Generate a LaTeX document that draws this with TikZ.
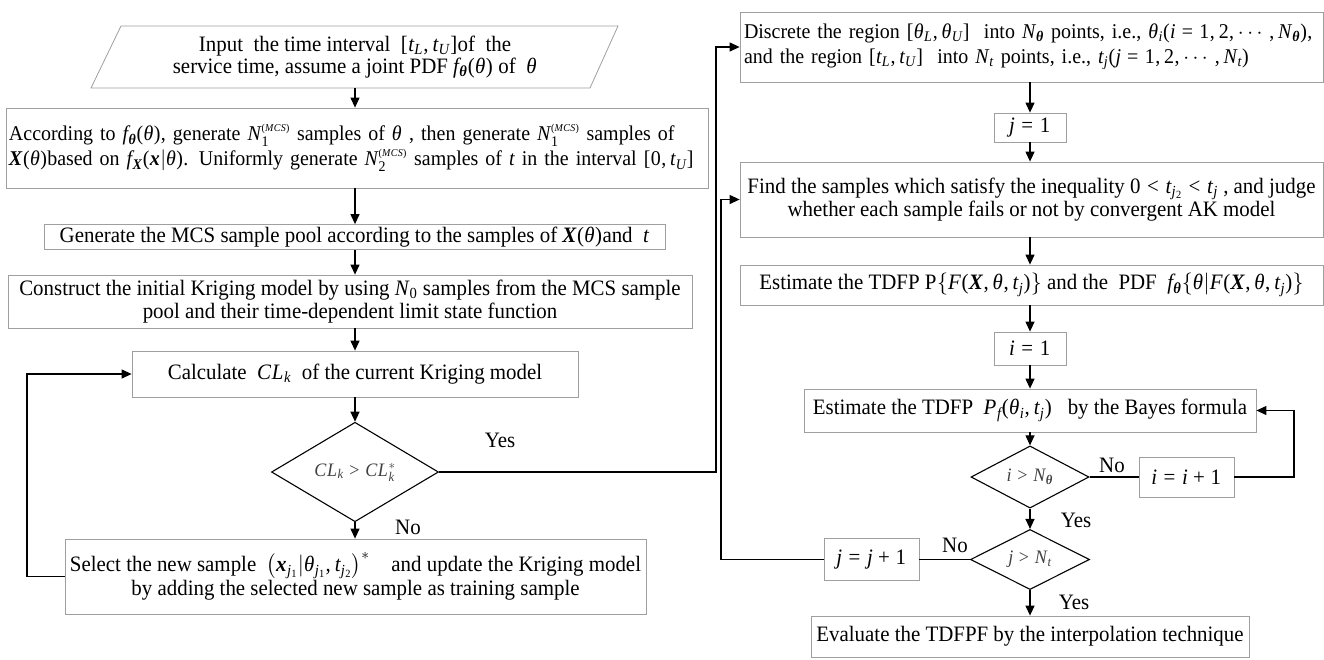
\documentclass[tikz,border=0pt]{standalone}
\usepackage{fix-cm}
\usepackage{amsmath}
\usepackage[no-math]{fontspec}
\setmainfont[NFSSFamily=libser, FakeStretch=0.95]{Liberation Serif}
% math letters, digits and punctuation taken from the text face
\DeclareSymbolFont{letters}{TU}{libser}{m}{it}
\SetSymbolFont{letters}{bold}{TU}{libser}{b}{it}
\DeclareSymbolFont{operators}{TU}{libser}{m}{n}
\SetSymbolFont{operators}{bold}{TU}{libser}{b}{n}
\Umathchardef\theta="0 \symletters "03B8
\Umathcode`\,="6 \symoperators "002C
\Umathcode`\.="0 \symoperators "002E
\Umathcode`\/="0 \symoperators "002F
\Umathcode`\<="3 \symoperators "003C
\Umathcode`\>="3 \symoperators "003E
\usetikzlibrary{arrows.meta,shapes.geometric}

\newcommand\figfont{\fontsize{22}{23.5}\selectfont}
\newcommand\tightfont{\fontsize{21}{25}\selectfont}
\newcommand\decfont{\fontsize{19}{20}\selectfont}
\newcommand\mcs{^{\scriptscriptstyle(MCS)}}

\begin{document}
\begin{tikzpicture}[x=1pt,y=-1pt,
  box/.style={draw=gray!75, line width=0.8pt, inner sep=2pt, align=center, font=\figfont},
  para/.style={draw=gray!75, line width=0.8pt},
  decision/.style={diamond, draw=black, line width=1.1pt, inner sep=0pt, font=\decfont, text=black!75},
  arr/.style={-{Triangle[length=10pt,width=9pt]}, line width=1.2pt},
  link/.style={line width=1.2pt},
  lbl/.style={font=\figfont, inner sep=0pt}]
\useasboundingbox (0,0) rectangle (1324,659);

% ---------- left column ----------
\coordinate (pBL) at (91,88);
\coordinate (pTL) at (121,26);
\coordinate (pTR) at (618,26);
\coordinate (pBR) at (590,88);
\draw[para] (pBL) -- (pTL) -- (pTR) -- (pBR) -- cycle;
\node[font=\fontsize{22}{22}\selectfont, align=center, inner sep=0pt] (in) at (355,57)
  {Input\ \ the time interval\ \ $[t_L,t_U]$of\ \ the\\
   service time, assume a joint PDF $f_{\boldsymbol{\theta}}(\theta)$ of\ \ $\theta$};
\coordinate (inB) at (355,88);

\node[box, font=\tightfont, minimum width=702, minimum height=80, text width=696, align=left, inner xsep=3pt] (b2) at (357,148)
  {\mbox{According to $f_{\boldsymbol{\theta}}(\theta)$, generate $N_1\mcs$ samples of $\theta$ , then generate $N_1\mcs$ samples of}\\
   \mbox{$\boldsymbol{X}(\theta)$based on $f_{\boldsymbol{X}}(\boldsymbol{x}|\theta)$. Uniformly generate $N_2\mcs$ samples of $t$ in the interval $[0,t_U]$}};

\node[box, minimum width=621, minimum height=25] (b3) at (354.5,237)
  {Generate the MCS sample pool according to the samples of $\boldsymbol{X}(\theta)$and\ \ $t$};

\node[box, minimum width=684, minimum height=53] (b4) at (350,301.5)
  {Construct the initial Kriging model by using $N_0$ samples from the MCS sample\\
   pool and their time-dependent limit state function};

\node[box, minimum width=446, minimum height=46] (b5) at (355,374)
  {Calculate\ \ $CL_k$\ \ of the current Kriging model};

\node[decision, minimum width=167, minimum height=75] (d1) at (355,472)
  {$CL_k > CL_k^{*}$};

\node[box, minimum width=581, minimum height=75] (b6) at (355.5,576.5)
  {Select the new sample\ \ $\left(\boldsymbol{x}_{j_1}\middle|\theta_{j_1},t_{j_2}\right)^{*}$\quad and update the Kriging model\\
   by adding the selected new sample as training sample};

\draw[arr] (inB) -- (inB |- b2.north);
\draw[arr] (inB |- b2.south) -- (inB |- b3.north);
\draw[arr] (inB |- b3.south) -- (inB |- b4.north);
\draw[arr] (b5.north |- b4.south) -- (b5.north);
\draw[arr] (b5.south) -- (d1.north);
\draw[arr] (d1.south) -- (d1.south |- b6.north);

\coordinate (fbL) at (27,576.5);
\draw[arr] (b6.west) -- (fbL) |- (b5.west);

\node[lbl] (yes1) at (500,440) {Yes};
\node[lbl] (no1) at (408,527) {No};

% ---------- right column ----------
\node[box, font=\tightfont, minimum width=583, minimum height=70, text width=575, align=left, inner xsep=4pt] (r1) at (1031.5,47)
  {\mbox{Discrete the region\ $[\theta_L,\theta_U]$\ \ into\ $N_{\boldsymbol{\theta}}$\ points, i.e.,\ $\theta_i(i=1,2,\cdots,N_{\boldsymbol{\theta}})$,}\\
   \mbox{and the region $[t_L,t_U]$\ \ into\ $N_t$\ points, i.e.,\ $t_j(j=1,2,\cdots,N_t)$}};

\node[box, minimum width=72, minimum height=29] (r2) at (1030,127.5) {$j=1$};

\node[box, minimum width=583, minimum height=75] (r3) at (1031.5,199.5)
  {Find the samples which satisfy the inequality $0<t_{j_2}<t_j$ , and judge\\
   whether each sample fails or not by convergent AK model};

\node[box, minimum width=583, minimum height=40] (r4) at (1031.5,285)
  {Estimate the TDFP $\mathrm{P}\{F(\boldsymbol{X},\theta,t_j)\}$ and the\ \ PDF\ \ $f_{\boldsymbol{\theta}}\{\theta|F(\boldsymbol{X},\theta,t_j)\}$};

\node[box, minimum width=72, minimum height=33] (r5) at (1030,348.5) {$i=1$};

\node[box, minimum width=452, minimum height=43] (r6) at (1030,410.5)
  {Estimate the TDFP\ \ $P_f(\theta_i,t_j)$\ \ \ by the Bayes formula};

\node[decision, minimum width=118, minimum height=51] (r7) at (1030,477) {$i>N_{\boldsymbol{\theta}}$};

\node[box, minimum width=95, minimum height=40] (r8) at (1186.5,477) {$i=i+1$};

\node[decision, minimum width=119, minimum height=53] (r9) at (1030,559.5) {$j>N_t$};

\node[box, minimum width=95, minimum height=42] (r10) at (871.5,559.5) {$j=j+1$};

\node[box, minimum width=438, minimum height=41] (r11) at (1030,636.5)
  {Evaluate the TDFPF by the interpolation technique};

\draw[arr] (r2.north |- r1.south) -- (r2.north);
\draw[arr] (r2.south) -- (r2.south |- r3.north);
\draw[arr] (r2.south |- r3.south) -- (r2.south |- r4.north);
\draw[arr] (r5.north |- r4.south) -- (r5.north);
\draw[arr] (r5.south) -- (r6.north);
\draw[arr] (r6.south) -- (r7.north);
\draw[arr] (r7.south) -- (r9.north);
\draw[arr] (r9.south) -- (r11.north);
\draw[link] (r7.east) -- (r8.west);
\coordinate (loopI) at (1294,477);
\draw[arr] (r8.east) -- (loopI) |- (r6.east);
\draw[link] (r9.west) -- (r10.east);
\coordinate (loopJ) at (721,559.5);
\draw[arr] (r10.west) -- (loopJ) |- (r3.west);

% branch from the convergence test to the discretisation step
\coordinate (yesTurn) at (716,472);
\draw[arr] (d1.east) -- (yesTurn) |- (r1.west);

\node[lbl] (no2) at (1112,465) {No};
\node[lbl] (yes2) at (1076,520) {Yes};
\node[lbl] (no3) at (955,545) {No};
\node[lbl] (yes3) at (1074,602) {Yes};
\end{tikzpicture}
\end{document}
